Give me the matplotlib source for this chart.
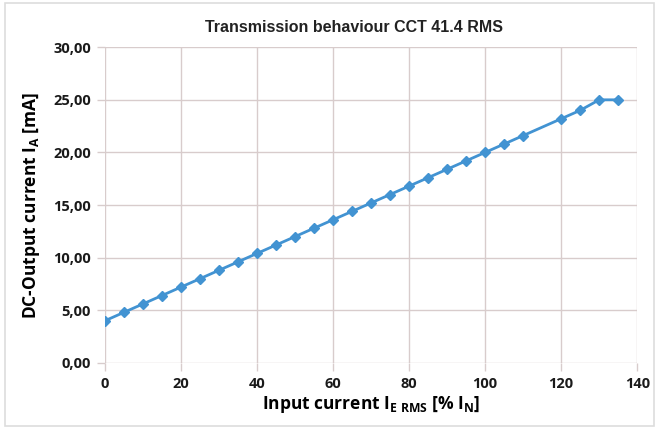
import matplotlib
matplotlib.use("Agg")
import matplotlib.pyplot as plt
from matplotlib.ticker import FuncFormatter
from matplotlib.patches import Rectangle

# input current [% I_N] and DC output current [mA]
input_pct = [0, 5, 10, 15, 20, 25, 30, 35, 40, 45, 50, 55, 60, 65, 70, 75,
             80, 85, 90, 95, 100, 105, 110, 120, 125, 130, 135]
output_ma = [4.0, 4.8, 5.6, 6.4, 7.2, 8.0, 8.8, 9.6, 10.4, 11.2, 12.0, 12.8,
             13.6, 14.4, 15.2, 16.0, 16.8, 17.6, 18.4, 19.2, 20.0, 20.8,
             21.6, 23.2, 24.0, 25.0, 25.0]

x_ticks = [0, 20, 40, 60, 80, 100, 120, 140]
y_ticks = [0, 5, 10, 15, 20, 25, 30]

plt.rcParams['font.family'] = ['Open Sans', 'DejaVu Sans']
plt.rcParams['mathtext.fontset'] = 'custom'
plt.rcParams['mathtext.bf'] = 'Open Sans:bold'
plt.rcParams['mathtext.rm'] = 'Open Sans'

grid_col = '#d8cccc'

fig = plt.figure(figsize=(6.59, 4.29), dpi=100)
ax = fig.add_axes([0.159, 0.154, 0.808, 0.736])

# outer chart border
fig.patches.append(Rectangle((0.008, 0.008), 0.984, 0.984, transform=fig.transFigure,
                             fill=False, edgecolor='#dddddd', linewidth=1.2))

ax.plot(input_pct, output_ma, color='#4293d2', linewidth=2, marker='D',
        markersize=5.5, zorder=3)

ax.set_xlim(0, 140)
ax.set_ylim(0, 30)
ax.set_xticks(x_ticks)
ax.set_yticks(y_ticks)
ax.yaxis.set_major_formatter(FuncFormatter(lambda v, p: f"{v:.2f}".replace('.', ',')))

ax.grid(True, color=grid_col, linewidth=1)
for s in ax.spines.values():
    s.set_visible(False)
ax.tick_params(axis='both', colors=grid_col, length=6, width=1, labelcolor='#1a1a1a',
               labelsize=10.5, pad=4)
for lbl in ax.get_xticklabels() + ax.get_yticklabels():
    lbl.set_fontweight('bold')

ax.set_xlabel(r'Input current $\mathbf{I}_{\mathbf{E\ RMS}}$ [% $\mathbf{I}_{\mathbf{N}}$]',
              fontsize=12.5, fontweight='bold', labelpad=2)
ax.set_ylabel(r'DC-Output current $\mathbf{I}_{\mathbf{A}}$ [mA]',
              fontsize=12.5, fontweight='bold', labelpad=8)

fig.text(0.537, 0.935, 'Transmission behaviour CCT 41.4 RMS', ha='center', va='center',
         fontsize=11.5, fontweight='bold', family='Liberation Sans', color='#222222')

fig.savefig('out.png', dpi=100)
